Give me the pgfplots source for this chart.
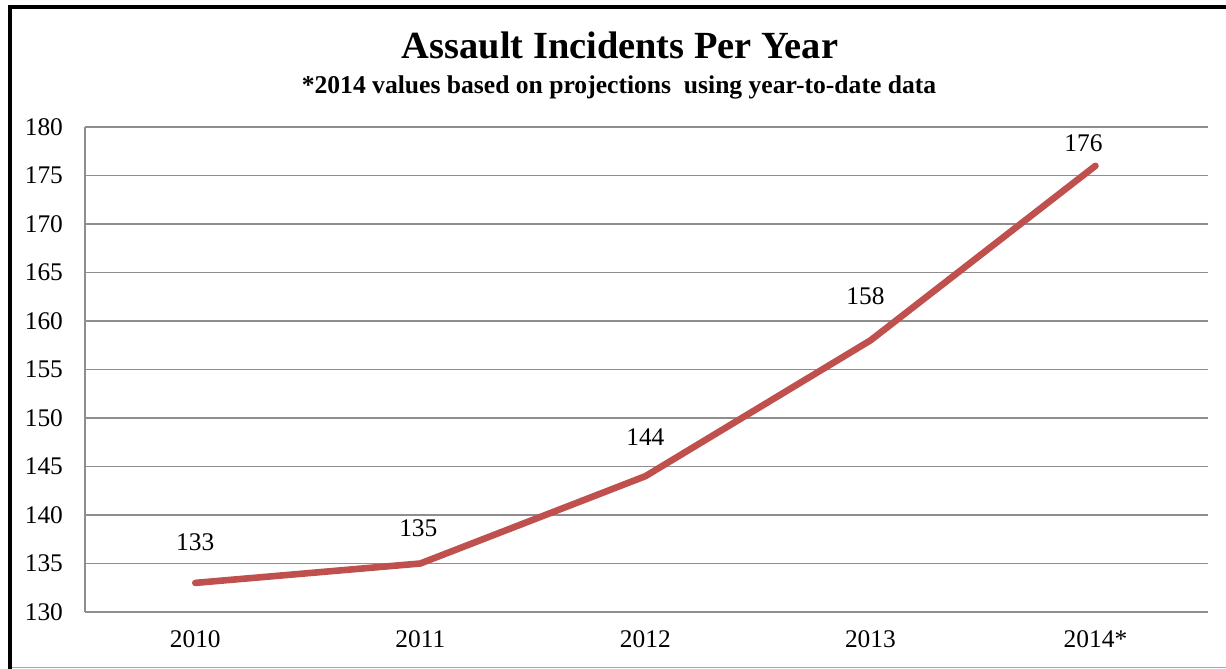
\documentclass[border=0pt]{standalone}
\usepackage{pgfplots}
\pgfplotsset{compat=1.18}
\usepackage{fontspec}
\setmainfont{Liberation Serif}
\definecolor{linered}{HTML}{C0504D}
\definecolor{gridgray}{HTML}{8E8E8E}
\begin{document}
\begin{tikzpicture}
\useasboundingbox (0,0) rectangle (613pt,334.5pt);
\fill[white] (0,0) rectangle (613pt,334.5pt);
\draw[gray!70, line width=0.75pt] (5pt,0.75pt) -- (613pt,0.75pt);
\draw[black, line width=2pt] (5pt,0) -- (5pt,331pt) -- (613pt,331pt);
\node[anchor=base, font=\bfseries\fontsize{19.2}{22}\selectfont] at (310pt,305pt) {Assault Incidents Per Year};
\node[anchor=base, font=\bfseries\fontsize{12.8}{15}\selectfont] at (309.5pt,287.5pt) {*2014 values based on projections\ \ using year-to-date data};
\begin{axis}[
  at={(42.5pt,28.5pt)}, anchor=south west, scale only axis,
  width=561.5pt, height=242.5pt,
  xmin=-0.49, xmax=4.5, ymin=130, ymax=180,
  ytick={130,135,...,180},
  xtick={0,1,2,3,4},
  xticklabels={2010,2011,2012,2013,2014*},
  ymajorgrids,
  grid style={gridgray, line width=0.9pt},
  axis lines=left,
  axis line style={-, gridgray, line width=0.9pt},
  major tick length=0pt,
  tick label style={font=\fontsize{12.7}{15}\selectfont, text=black},
  /pgf/number format/assume math mode=true,
  yticklabel style={xshift=-7.5pt},
  xticklabel style={yshift=-6pt},
  clip=false,
]
\addplot[linered, line width=3.3pt, line cap=round, line join=round] coordinates {
  (0,133) (1,135) (2,144) (3,158) (4,176)
};
\node[font=\fontsize{12.7}{15}\selectfont, yshift=20.5pt] at (axis cs:0,133) {133};
\node[font=\fontsize{12.7}{15}\selectfont, yshift=17.5pt, xshift=-1pt] at (axis cs:1,135) {135};
\node[font=\fontsize{12.7}{15}\selectfont, yshift=19.5pt] at (axis cs:2,144) {144};
\node[font=\fontsize{12.7}{15}\selectfont, yshift=22pt, xshift=-2.5pt] at (axis cs:3,158) {158};
\node[font=\fontsize{12.7}{15}\selectfont, yshift=11.5pt, xshift=-6pt] at (axis cs:4,176) {176};
\end{axis}
\end{tikzpicture}
\end{document}
